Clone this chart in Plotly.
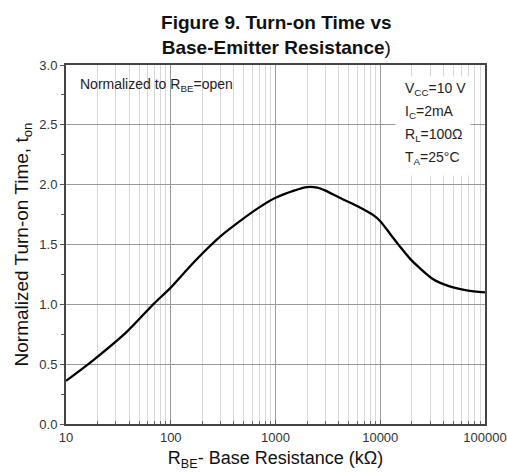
import plotly.graph_objects as go

r_be = [10, 18, 38, 68, 100, 150, 220, 300, 500, 700, 1000, 1500, 2000, 2500,
        3000, 4100, 6400, 8600, 10000, 12400, 15500, 19300, 24000, 32000, 46000, 67000, 100000]
t_on = [0.36, 0.53, 0.77, 1.00, 1.14, 1.31, 1.46, 1.57, 1.72, 1.81, 1.89, 1.95, 1.98, 1.975,
        1.95, 1.89, 1.81, 1.745, 1.695, 1.59, 1.48, 1.38, 1.30, 1.21, 1.15, 1.117, 1.10]
x_ticks = [10, 100, 1000, 10000, 100000]
x_tick_labels = ["10", "100", "1000", "10000", "100000"]
y_ticks = [0.0, 0.5, 1.0, 1.5, 2.0, 2.5, 3.0]
y_tick_labels = ["0.0", "0.5", "1.0", "1.5", "2.0", "2.5", "3.0"]
conditions = ["V<sub>CC</sub>=10 V", "I<sub>C</sub>=2mA", "R<sub>L</sub>=100Ω", "T<sub>A</sub>=25°C"]

# minor log grid positions (2..9 in each decade)
x_minor = [m * 10 ** e for e in range(1, 5) for m in range(2, 10)]

FONT = "Liberation Sans, Arial, sans-serif"
H = 475

fig = go.Figure()
fig.add_trace(go.Scatter(x=r_be, y=t_on, mode="lines",
                         line=dict(color="black", width=2.3, shape="spline", smoothing=0.8),
                         showlegend=False, hoverinfo="skip"))

fig.update_layout(
    width=507, height=H,
    margin=dict(l=66, r=22, t=65, b=51, autoexpand=False),
    paper_bgcolor="white", plot_bgcolor="white",
    font=dict(family=FONT, color="#222"),
    title=dict(text="<b>Figure 9. Turn-on Time vs<br>Base-Emitter Resistance</b>)",
               x=0.545, xanchor="center", yref="container", y=1 - 29 / H, yanchor="middle",
               font=dict(size=19, color="#111")),
)
fig.update_xaxes(
    type="log", range=[1, 5], automargin=False,
    tickmode="array", tickvals=x_ticks, ticktext=x_tick_labels,
    tickfont=dict(size=13, color="#333"),
    showgrid=True, gridcolor="#9a9a9a", gridwidth=1,
    minor=dict(tickmode="array", tickvals=x_minor, showgrid=True, gridcolor="#d8d8d8",
               gridwidth=1, ticks="inside", ticklen=3, tickcolor="#666"),
    ticks="inside", ticklen=4, tickcolor="#555",
    showline=True, linecolor="#444", linewidth=2, mirror=True,
    zeroline=False,
    title=dict(text="R<sub>BE</sub>- Base Resistance (kΩ)", font=dict(size=18, color="#111"),
               standoff=8),
)
fig.update_yaxes(
    range=[0, 3], automargin=False,
    tickmode="array", tickvals=y_ticks, ticktext=y_tick_labels,
    tickfont=dict(size=13, color="#333"),
    showgrid=True, gridcolor="#9a9a9a", gridwidth=1,
    minor=dict(dtick=0.25, ticks="outside", ticklen=3, tickcolor="#555", showgrid=False),
    ticks="outside", ticklen=4, tickcolor="#555",
    showline=True, linecolor="#444", linewidth=2, mirror=True,
    zeroline=False,
    title=dict(text="Normalized Turn-on Time, t<sub>on</sub>", font=dict(size=19, color="#111"),
               standoff=6),
)

fig.add_annotation(xref="paper", yref="paper", x=0.028, y=1 - (85 - 65) / 359, xanchor="left",
                   yanchor="middle", text="Normalized to R<sub>BE</sub>=open", showarrow=False,
                   font=dict(size=14, color="#222"))

# white box behind the conditions
fig.add_annotation(xref="paper", yref="paper", x=(433 - 66) / 419, y=1 - (126 - 65) / 359,
                   xanchor="center", yanchor="middle", text=" ", width=72, height=96,
                   bgcolor="white", showarrow=False)
for i, txt in enumerate(conditions):
    fig.add_annotation(xref="paper", yref="paper", x=(403 - 66) / 419,
                       y=1 - (89 + 23 * i - 65) / 359, xanchor="left", yanchor="middle",
                       text=txt, showarrow=False, font=dict(size=14, color="#222"))

fig.write_html("out.html", config={"displayModeBar": False},
               post_script="document.body.style.margin='0px';")
